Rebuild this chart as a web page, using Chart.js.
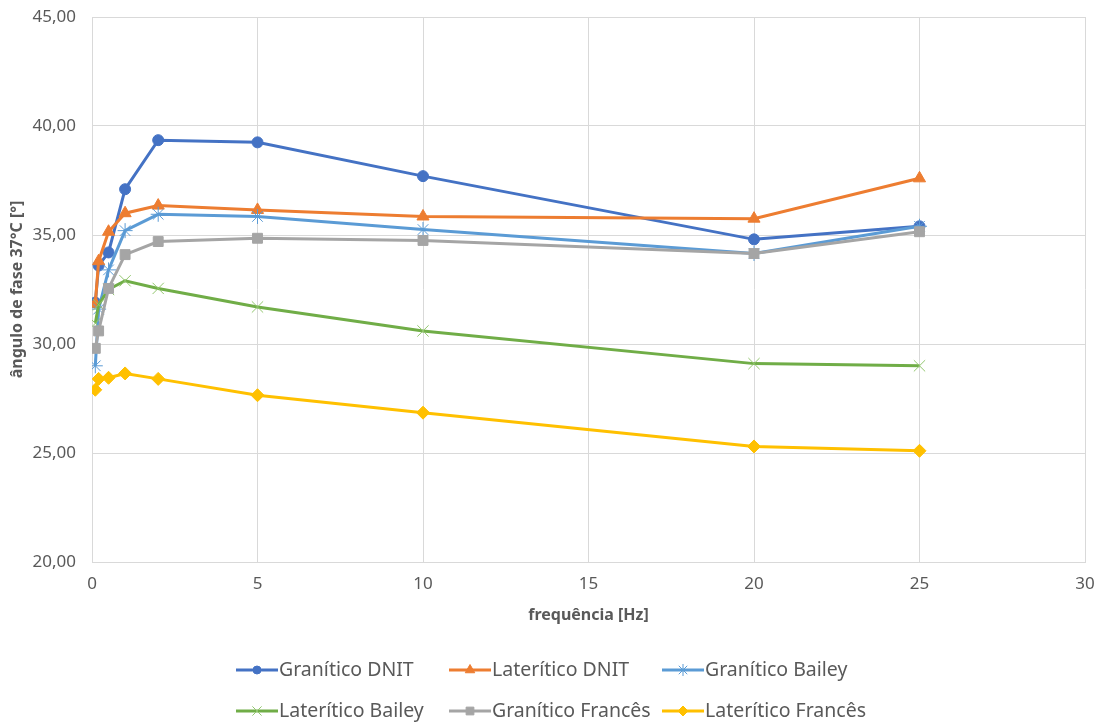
<!DOCTYPE html>
<html>
<head>
<meta charset="utf-8">
<script src="https://cdn.jsdelivr.net/npm/chart.js@4.4.1/dist/chart.umd.min.js"></script>
<style>
  html, body { margin: 0; padding: 0; background: #fff; }
  #wrap { width: 1106px; height: 724px; position: relative; }
</style>
</head>
<body>
<div id="wrap"><canvas id="chart"></canvas></div>
<script>
// Data
const freqHz = [0.1, 0.2, 0.5, 1, 2, 5, 10, 20, 25];
const graniticoDNIT    = [31.9, 33.6, 34.2, 37.1, 39.35, 39.25, 37.7, 34.8, 35.4];
const lateriticoDNIT   = [31.85, 33.8, 35.15, 36.0, 36.35, 36.15, 35.85, 35.75, 37.6];
const graniticoBailey  = [29.0, 31.6, 33.4, 35.2, 35.95, 35.85, 35.25, 34.15, 35.4];
const lateriticoBailey = [30.95, 31.8, 32.5, 32.9, 32.55, 31.7, 30.6, 29.1, 29.0];
const graniticoFrances = [29.8, 30.6, 32.55, 34.1, 34.7, 34.85, 34.75, 34.15, 35.15];
const lateriticoFrances = [27.9, 28.4, 28.45, 28.65, 28.4, 27.65, 26.85, 25.3, 25.1];

const seriesLabels = ['Granítico DNIT', 'Laterítico DNIT', 'Granítico Bailey',
                      'Laterítico Bailey', 'Granítico Francês', 'Laterítico Francês'];
const seriesValues = [graniticoDNIT, lateriticoDNIT, graniticoBailey,
                      lateriticoBailey, graniticoFrances, lateriticoFrances];

// Styles
const lineColors = ['#4472C4', '#ED7D31', '#5B9BD5', '#70AD47', '#A5A5A5', '#FFC000'];
const markerColors = ['#4472C4', '#ED7D31', '#5B9BD5', '#92C66E', '#A5A5A5', '#FFC000'];
const markerStyles = ['circle', 'triangle', 'star', 'crossRot', 'rect', 'rectRot'];
const markerRadius = [5.5, 7, 7.5, 8, 7, 6.5];

const TEXT = '#595959';
const FONT = "'Noto Sans', 'Open Sans', sans-serif";

const datasets = seriesLabels.map((label, i) => ({
    label,
    data: seriesValues[i].map((v, j) => ({ x: freqHz[j], y: v })),
    borderColor: lineColors[i],
    backgroundColor: markerColors[i],
    borderWidth: 3,
    tension: 0,
    pointStyle: markerStyles[i],
    pointRadius: markerRadius[i],
    pointHoverRadius: markerRadius[i],
    pointBackgroundColor: markerColors[i],
    pointBorderColor: markerColors[i],
    pointBorderWidth: 1,
    order: seriesLabels.length - i
}));

// Legend drawn as a 3-column grid, like the original
const legendCols = [236, 449, 662];
const legendRows = [670, 711];

const gridLegend = {
    id: 'gridLegend',
    afterDraw(chart) {
        const ctx = chart.ctx;
        ctx.save();
        chart.data.datasets.forEach((ds, i) => {
            const x0 = legendCols[i % 3];
            const y = legendRows[Math.floor(i / 3)];
            ctx.strokeStyle = ds.borderColor;
            ctx.lineWidth = 3;
            ctx.beginPath();
            ctx.moveTo(x0, y);
            ctx.lineTo(x0 + 42, y);
            ctx.stroke();
            ctx.fillStyle = ds.pointBackgroundColor;
            ctx.strokeStyle = ds.pointBorderColor;
            ctx.lineWidth = 1;
            if (Chart.helpers && Chart.helpers.drawPoint) {
                Chart.helpers.drawPoint(ctx, {
                    pointStyle: ds.pointStyle,
                    radius: ds.pointRadius - 1.5,
                    rotation: 0,
                    borderWidth: 1
                }, x0 + 21, y);
            }
            ctx.fillStyle = TEXT;
            ctx.font = '19.5px ' + FONT;
            ctx.textAlign = 'left';
            ctx.textBaseline = 'middle';
            ctx.fillText(ds.label, x0 + 43, y);
        });
        ctx.restore();
    }
};

function initChart() {
    const ctx = document.getElementById('chart').getContext('2d');
    return new Chart(ctx, {
        type: 'line',
        data: { datasets },
        options: {
            responsive: true,
            maintainAspectRatio: false,
            animation: false,
            layout: { autoPadding: false, padding: { left: 0, right: 21, top: 17, bottom: 92 } },
            scales: {
                x: {
                    type: 'linear',
                    min: 0,
                    max: 30,
                    ticks: {
                        stepSize: 5,
                        color: TEXT,
                        font: { family: FONT, size: 17 },
                        padding: 12
                    },
                    grid: { color: '#D9D9D9', drawTicks: false },
                    border: { color: '#D9D9D9' },
                    title: {
                        display: true,
                        text: 'frequência [Hz]',
                        color: TEXT,
                        font: { family: FONT, size: 16, weight: 'bold' },
                        padding: { top: 0, bottom: 7 }
                    },
                    afterFit: s => { s.height = 70; s.paddingLeft = 0; s.paddingRight = 0; }
                },
                y: {
                    min: 20,
                    max: 45,
                    ticks: {
                        stepSize: 5,
                        color: TEXT,
                        font: { family: FONT, size: 17 },
                        padding: 16,
                        callback: v => v.toFixed(2).replace('.', ',')
                    },
                    grid: { color: '#D9D9D9', drawTicks: false },
                    border: { color: '#D9D9D9' },
                    title: {
                        display: true,
                        text: 'ângulo de fase 37°C [°]',
                        color: TEXT,
                        font: { family: FONT, size: 16, weight: 'bold' },
                        padding: { top: 8, bottom: 0 }
                    },
                    afterFit: s => { s.width = 92; s.paddingTop = 0; s.paddingBottom = 0; }
                }
            },
            plugins: {
                legend: { display: false },
                tooltip: { enabled: false }
            }
        },
        plugins: [gridLegend]
    });
}

initChart();
</script>
</body>
</html>
